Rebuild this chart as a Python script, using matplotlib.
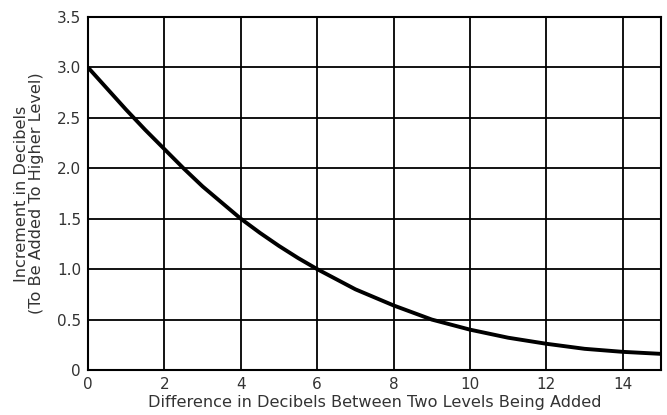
import matplotlib.pyplot as plt

# values
diff_db = [0, 0.5, 1, 1.5, 2, 2.5, 3, 3.5, 4, 4.5, 5, 5.5, 6, 6.5, 7, 7.5,
           8, 8.5, 9, 9.5, 10, 10.5, 11, 11.5, 12, 12.5, 13, 13.5, 14, 14.5, 15]
increment_db = [3.0, 2.79, 2.58, 2.38, 2.19, 2.0, 1.82, 1.66, 1.5, 1.36, 1.23, 1.11, 1.0, 0.9, 0.8, 0.72,
                0.64, 0.57, 0.5, 0.45, 0.4, 0.36, 0.32, 0.29, 0.26, 0.235, 0.21, 0.195, 0.18, 0.17, 0.16]

x_ticks = [0, 2, 4, 6, 8, 10, 12, 14]
y_ticks = [0, 0.5, 1.0, 1.5, 2.0, 2.5, 3.0, 3.5]
y_labels = ["0", "0.5", "1.0", "1.5", "2.0", "2.5", "3.0", "3.5"]

plt.rcParams["font.family"] = ["DejaVu Sans"]

fig = plt.figure(figsize=(6.67, 4.15), dpi=100)
ax = fig.add_axes([88 / 667, 45 / 415, 573 / 667, 353 / 415])

ax.plot(diff_db, increment_db, color="black", linewidth=2.8, solid_capstyle="butt", zorder=3)

ax.set_xlim(0, 15)
ax.set_ylim(0, 3.5)
ax.set_xticks(x_ticks)
ax.set_yticks(y_ticks)
ax.set_yticklabels(y_labels)
ax.tick_params(length=0, labelsize=11, colors="#333333")
ax.tick_params(axis="y", pad=5)
ax.tick_params(axis="x", pad=5)
ax.grid(True, color="black", linewidth=1.3)
for s in ax.spines.values():
    s.set_linewidth(1.5)

ax.set_xlabel("Difference in Decibels Between Two Levels Being Added", fontsize=11.6, color="#333333", labelpad=2.5)
ax.set_ylabel("Increment in Decibels\n(To Be Added To Higher Level)", fontsize=11.6, color="#333333", labelpad=9,
              linespacing=1.05)

fig.savefig("out.png", dpi=100)
